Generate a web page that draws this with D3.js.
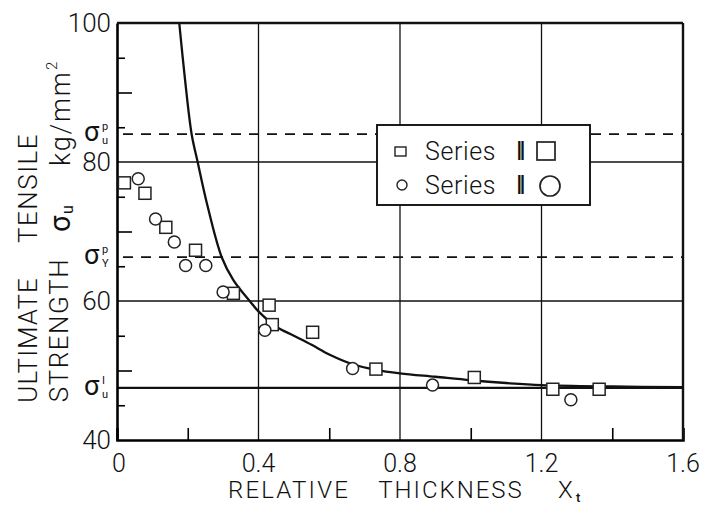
<!DOCTYPE html>
<html>
<head>
<meta charset="utf-8">
<script src="https://cdn.jsdelivr.net/npm/d3@7"></script>
<style>
  html, body { margin: 0; padding: 0; background: #fff; }
  svg { display: block; }
  text { font-family: Roboto, "DejaVu Sans", sans-serif; fill: #111; }
</style>
</head>
<body>
<svg id="chart" width="702" height="506"></svg>
<script>
// Test results: ultimate tensile strength vs relative thickness
const squareX = [0.021, 0.079, 0.138, 0.222, 0.329, 0.430, 0.439, 0.553, 0.732, 1.010, 1.232, 1.363];
const squareY = [77.0, 75.5, 70.6, 67.3, 61.1, 59.4, 56.6, 55.5, 50.2, 49.0, 47.3, 47.3];
const circleX = [0.060, 0.109, 0.162, 0.194, 0.251, 0.300, 0.418, 0.666, 0.892, 1.283];
const circleY = [77.6, 71.8, 68.5, 65.1, 65.1, 61.3, 55.8, 50.3, 47.9, 45.8];

// Theoretical curve, sampled
const curveX = [0.176, 0.192, 0.211, 0.228, 0.252, 0.296, 0.329, 0.375, 0.40, 0.45, 0.50, 0.55, 0.60, 0.666, 0.732, 0.80, 0.90, 1.00, 1.10, 1.20, 1.40, 1.60];
const curveY = [100, 92, 84, 80, 74.5, 66.3, 63.0, 60.0, 58.5, 56.3, 55.0, 53.7, 52.3, 50.9, 50.1, 49.6, 49.1, 48.6, 48.2, 47.9, 47.7, 47.6];

// Reference strength levels
const sigmaUP = 84.0;   // σu^p
const sigmaYP = 66.3;   // σY^p
const sigmaUI = 47.5;   // σu^I

const xTicks = [0, 0.4, 0.8, 1.2, 1.6];
const xTickLabels = ["0", "0.4", "0.8", "1.2", "1.6"];
const xMinorTicks = [0.2, 0.6, 1.0, 1.4];
const yTicks = [40, 60, 80, 100];
const yTickLabels = ["40", "60", "80", "100"];
const yMidTicks = [50, 70, 90];
const yMinorTicks = [45, 55, 65, 75, 85, 95];
const legendLabels = ["Series", "Series"];

const svg = d3.select("#chart");
const mLeft = 117, mRight = 683, mTop = 23, mBottom = 440;

const x = d3.scaleLinear().domain([0, 1.6]).range([mLeft, mRight]);
const y = d3.scaleLinear().domain([40, 100]).range([mBottom, mTop]);

const g = svg.append("g");

// grid lines
g.selectAll(".vgrid").data([0.4, 0.8, 1.2]).enter().append("line")
  .attr("x1", d => x(d)).attr("x2", d => x(d))
  .attr("y1", y(100)).attr("y2", y(40))
  .attr("stroke", "#111").attr("stroke-width", 1.3);
g.selectAll(".hgrid").data([60, 80]).enter().append("line")
  .attr("x1", x(0)).attr("x2", x(1.6))
  .attr("y1", d => y(d)).attr("y2", d => y(d))
  .attr("stroke", "#111").attr("stroke-width", 1.3);

// reference levels
g.selectAll(".dash").data([sigmaUP, sigmaYP]).enter().append("line")
  .attr("x1", x(0) + 6).attr("x2", x(1.6))
  .attr("y1", d => y(d)).attr("y2", d => y(d))
  .attr("stroke", "#111").attr("stroke-width", 1.7)
  .attr("stroke-dasharray", "10,8");
g.append("line")
  .attr("x1", x(0)).attr("x2", x(1.6))
  .attr("y1", y(sigmaUI)).attr("y2", y(sigmaUI))
  .attr("stroke", "#111").attr("stroke-width", 2.2);

// axes built with d3.axis, ticks pointing inward
const yAxis = d3.axisRight(y).tickValues(yTicks).tickSize(0).tickFormat("");
g.append("g").attr("transform", `translate(${mLeft},0)`).call(yAxis)
  .call(s => s.select(".domain").attr("stroke-width", 2.6));
const yMid = d3.axisRight(y).tickValues(yMidTicks).tickSize(15).tickFormat("");
g.append("g").attr("transform", `translate(${mLeft},0)`).call(yMid)
  .call(s => s.select(".domain").remove())
  .call(s => s.selectAll("line").attr("stroke-width", 1.6));
const yMinor = d3.axisRight(y).tickValues(yMinorTicks).tickSize(8).tickFormat("");
g.append("g").attr("transform", `translate(${mLeft},0)`).call(yMinor)
  .call(s => s.select(".domain").remove())
  .call(s => s.selectAll("line").attr("stroke-width", 1.6));

const xAxis = d3.axisTop(x).tickValues(xMinorTicks).tickSize(12).tickFormat("");
g.append("g").attr("transform", `translate(0,${mBottom})`).call(xAxis)
  .call(s => s.select(".domain").attr("stroke-width", 2.6))
  .call(s => s.selectAll("line").attr("stroke-width", 1.6));

// frame top and right
g.append("line").attr("x1", mLeft).attr("x2", mRight).attr("y1", mTop).attr("y2", mTop)
  .attr("stroke", "#111").attr("stroke-width", 2.4);
g.append("line").attr("x1", mRight).attr("x2", mRight).attr("y1", mTop).attr("y2", mBottom)
  .attr("stroke", "#111").attr("stroke-width", 2.4);

// tick labels
g.selectAll(".ylab").data(yTicks).enter().append("text")
  .attr("x", mLeft - 6).attr("y", d => y(d)).attr("dy", "0.36em")
  .attr("text-anchor", "end").attr("font-size", 26).attr("font-weight", 300)
  .text((d, i) => yTickLabels[i]);
g.selectAll(".xlab").data(xTicks).enter().append("text")
  .attr("x", d => x(d) + (d === 0 ? 2 : 0)).attr("y", 472)
  .attr("text-anchor", "middle").attr("font-size", 25).attr("font-weight", 300)
  .text((d, i) => xTickLabels[i]);

// sigma level labels on the y axis
function sigmaLabel(val, sup, sub) {
  const t = g.append("g").attr("transform", `translate(84,${y(val)})`);
  t.append("text").attr("x", 0).attr("y", 7).attr("font-family", "DejaVu Sans")
    .attr("font-size", 27).text("σ");
  t.append("text").attr("x", 18).attr("y", -4).attr("font-family", "DejaVu Sans")
    .attr("font-size", 11).text(sup);
  t.append("text").attr("x", 18).attr("y", 10).attr("font-family", "DejaVu Sans")
    .attr("font-size", 11).text(sub);
}
sigmaLabel(sigmaUP, "p", "u");
sigmaLabel(sigmaYP, "p", "Y");
sigmaLabel(sigmaUI, "I", "u");

// curve
const line = d3.line().x(d => x(d[0])).y(d => y(d[1])).curve(d3.curveCatmullRom.alpha(0.5));
g.append("path").datum(curveX.map((v, i) => [v, curveY[i]]))
  .attr("d", line).attr("fill", "none").attr("stroke", "#111").attr("stroke-width", 2.3);

// markers
const sq = 12;
g.selectAll(".sq").data(squareX.map((v, i) => [v, squareY[i]])).enter().append("rect")
  .attr("x", d => x(d[0]) - sq / 2).attr("y", d => y(d[1]) - sq / 2)
  .attr("width", sq).attr("height", sq)
  .attr("fill", "#fff").attr("stroke", "#222").attr("stroke-width", 1.5);
g.selectAll(".ci").data(circleX.map((v, i) => [v, circleY[i]])).enter().append("circle")
  .attr("cx", d => x(d[0])).attr("cy", d => y(d[1])).attr("r", 6)
  .attr("fill", "#fff").attr("stroke", "#222").attr("stroke-width", 1.5);

// legend
const lg = g.append("g");
lg.append("rect").attr("x", 377).attr("y", 125).attr("width", 213).attr("height", 80)
  .attr("fill", "#fff").attr("stroke", "#111").attr("stroke-width", 1.9);
lg.append("rect").attr("x", 395).attr("y", 147).attr("width", 11).attr("height", 9)
  .attr("fill", "none").attr("stroke", "#222").attr("stroke-width", 1.4);
lg.append("circle").attr("cx", 402).attr("cy", 185).attr("r", 5)
  .attr("fill", "none").attr("stroke", "#222").attr("stroke-width", 1.4);
lg.selectAll(".lt").data(legendLabels).enter().append("text")
  .attr("x", 425).attr("y", (d, i) => 160 + i * 34)
  .attr("font-size", 25).attr("font-weight", 300).attr("letter-spacing", 0.6).text(d => d);
lg.selectAll(".ln").data([0, 1]).enter().append("text")
  .attr("transform", (d, i) => `translate(517,${160 + i * 34}) scale(0.62,1)`)
  .attr("font-family", "Liberation Serif").attr("font-size", 25).attr("font-weight", "bold")
  .attr("letter-spacing", -2).text("II");
lg.append("rect").attr("x", 537).attr("y", 142).attr("width", 18).attr("height", 18)
  .attr("fill", "none").attr("stroke", "#222").attr("stroke-width", 1.7);
lg.append("circle").attr("cx", 550).attr("cy", 186).attr("r", 10)
  .attr("fill", "none").attr("stroke", "#222").attr("stroke-width", 1.7);

// x axis title
const xt = g.append("g");
xt.append("text").attr("x", 289).attr("y", 498).attr("text-anchor", "middle")
  .attr("font-size", 24).attr("font-weight", 300).attr("letter-spacing", 2.2).text("RELATIVE");
xt.append("text").attr("x", 451).attr("y", 498).attr("text-anchor", "middle")
  .attr("font-size", 24).attr("font-weight", 300).attr("letter-spacing", 2).text("THICKNESS");
xt.append("text").attr("x", 558).attr("y", 498)
  .attr("font-size", 24).attr("font-weight", 300).text("X");
xt.append("text").attr("x", 576).attr("y", 502)
  .attr("font-size", 13).attr("font-weight", 500).text("t");

// y axis title (two rotated columns)
function vtext(cx, cy, str, size, spacing) {
  return g.append("text").attr("transform", `translate(${cx},${cy}) rotate(-90)`)
    .attr("text-anchor", "middle").attr("font-size", size).attr("font-weight", 300)
    .attr("letter-spacing", spacing || 0).text(str);
}
vtext(37, 340, "ULTIMATE", 26, 1);
vtext(37, 188, "TENSILE", 26, 1.5);
vtext(68, 330, "STRENGTH", 26, 1.5);
const sg = g.append("g").attr("transform", "translate(70,232) rotate(-90)");
sg.append("text").attr("x", 0).attr("y", 0).attr("font-family", "DejaVu Sans").attr("font-size", 29).text("σ");
sg.append("text").attr("x", 18).attr("y", 3).attr("font-size", 16).attr("font-weight", 400).text("u");
const kg = g.append("g").attr("transform", "translate(70,166) rotate(-90)");
kg.append("text").attr("x", 0).attr("y", 0).attr("font-size", 27).attr("font-weight", 300)
  .attr("letter-spacing", 1.8).text("kg/mm");
kg.append("text").attr("x", 96).attr("y", -13).attr("font-size", 15).attr("font-weight", 300).text("2");
</script>
</body>
</html>
